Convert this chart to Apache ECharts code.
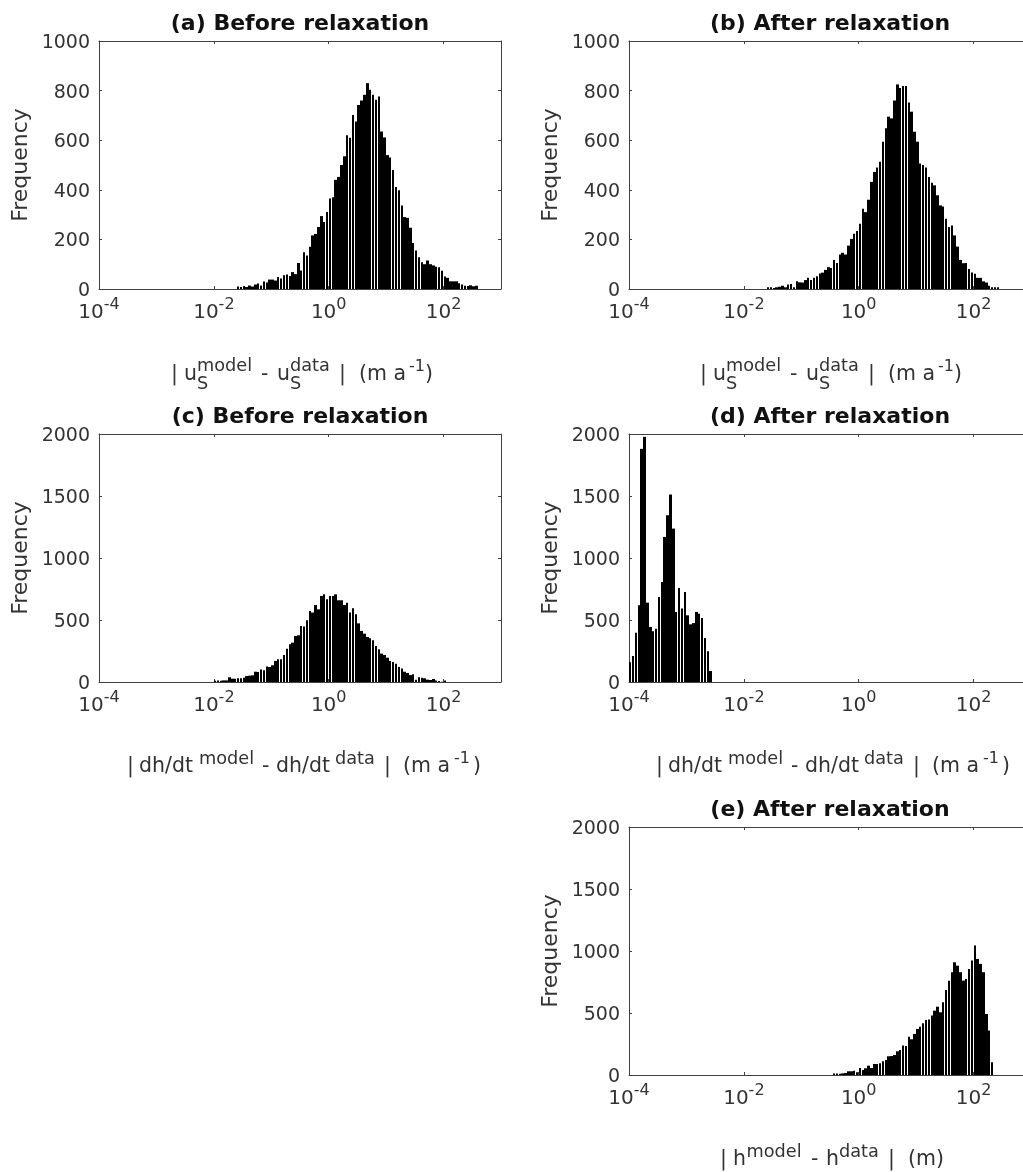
<!DOCTYPE html>
<html>
<head>
<meta charset="utf-8">
<style>
  html, body { margin: 0; padding: 0; background: #fff; overflow: hidden; }
  #chart { width: 1023px; height: 1172px; }
</style>
<script src="https://cdn.jsdelivr.net/npm/echarts@6/dist/echarts.min.js"></script>
</head>
<body>
<div id="chart"></div>
<script>
// histogram bins are 0.05 decades wide, bin 0 starts at 10^-4
const binStartExp = -4
const binWidthExp = 0.05

const titles = ['(a) Before relaxation', '(b) After relaxation', '(c) Before relaxation', '(d) After relaxation', '(e) After relaxation']
const xTickExps = [-4, -2, 0, 2]

// first non empty bin of each panel, counts follow from there
const startA = 48
const countsA = [10,8,12,8,14,10,18,22,14,30,26,38,38,34,48,42,55,58,52,68,60,105,75,148,135,170,216,222,250,294,270,310,365,370,440,452,500,535,620,610,702,675,742,760,783,830,803,783,763,776,635,611,540,530,480,411,398,337,290,287,247,185,155,128,108,100,115,100,95,90,88,74,50,45,31,31,31,23,18,13,12,15,11,13]
const startB = 48
const countsB = [7,7,4,7,9,13,7,18,20,7,31,27,26,36,45,36,45,51,63,66,77,88,85,117,105,139,146,139,175,202,223,234,263,324,310,360,432,472,490,513,594,648,695,688,760,825,810,819,819,752,715,634,594,506,500,490,452,428,418,378,337,333,283,250,256,216,171,117,104,105,81,67,61,45,45,31,26,13,7,7,7]
const startC = 40
const countsC = [11,13,11,13,13,38,27,27,30,30,35,48,51,54,83,81,100,94,124,121,135,170,183,183,218,269,304,317,371,377,452,447,498,573,560,621,586,694,707,667,694,694,707,659,659,621,640,560,594,546,473,412,390,363,352,336,290,264,229,218,196,170,161,148,121,108,83,73,56,62,19,38,35,30,19,16,24,13,8,3,13]
const startD = 0
const countsD = [160,210,398,619,1880,1977,640,444,409,430,686,807,1170,1345,1512,1237,565,759,592,726,538,465,475,565,551,516,355,247,89]
const startE = 71
const countsE = [13,13,11,13,16,30,30,35,22,56,40,54,75,56,89,89,94,110,121,151,153,161,191,202,237,234,309,288,331,371,390,417,444,447,479,519,551,506,586,686,761,829,909,882,829,761,775,855,923,1044,936,896,829,492,358,102]

const ink = '#333333'
const frame = '#404040'
const fontFamily = '"DejaVu Sans"'

function makeBins(start, counts) {
    return counts.map((c, i) => {
        const lo = binStartExp + (start + i) * binWidthExp
        return [Math.pow(10, lo), Math.pow(10, lo + binWidthExp), c]
    })
}

// edges are snapped to whole pixels, that is what makes the thin white lines in the bars
function renderBin(params, api) {
    const a = api.coord([api.value(0), api.value(2)])
    const b = api.coord([api.value(1), 0])
    const left = Math.round(a[0])
    const right = Math.round(a[0] + (b[0] - a[0]) * 0.86)
    return {
        type: 'rect',
        shape: { x: left, y: a[1], width: right - left, height: b[1] - a[1] },
        style: { fill: '#000' }
    }
}

const panels = [
    { left: 99, top: 41, yMax: 1000, yInt: 200, bins: makeBins(startA, countsA) },
    { left: 629, top: 41, yMax: 1000, yInt: 200, bins: makeBins(startB, countsB) },
    { left: 99, top: 434, yMax: 2000, yInt: 500, bins: makeBins(startC, countsC) },
    { left: 629, top: 434, yMax: 2000, yInt: 500, bins: makeBins(startD, countsD) },
    { left: 629, top: 827, yMax: 2000, yInt: 500, bins: makeBins(startE, countsE) }
]

const option = { animation: false, backgroundColor: '#fff', title: [], grid: [], xAxis: [], yAxis: [], series: [] }

panels.forEach((p, i) => {
    option.title.push({
        text: titles[i],
        left: p.left + 196,
        top: p.top - 33,
        textAlign: 'center',
        textStyle: { fontFamily, fontWeight: 'bold', fontSize: 22, color: '#111' }
    })
    // the right hand panels run past the edge of the page, as in the original
    option.grid.push({ left: p.left, top: p.top, width: 402, height: 248, show: false, outerBoundsMode: 'none' })

    const xBase = {
        type: 'log', logBase: 10, gridIndex: i, min: 1e-4, max: 1e3, interval: 2,
        axisLine: { show: true, onZero: false, lineStyle: { color: frame, width: 1 } },
        axisTick: { show: true, inside: true, length: 3, lineStyle: { color: frame } },
        minorTick: { show: false },
        splitLine: { show: false }
    }
    option.xAxis.push(Object.assign({}, xBase, {
        position: 'bottom',
        axisLabel: {
            margin: 8,
            showMaxLabel: false,
            formatter: v => {
                const e = Math.round(Math.log10(v))
                return xTickExps.includes(e) ? `{b|10}{s|${e}}` : ''
            },
            rich: {
                b: { fontFamily, fontSize: 20, color: ink, lineHeight: 26, verticalAlign: 'bottom' },
                s: { fontFamily, fontSize: 16, color: ink, lineHeight: 26, verticalAlign: 'top' }
            }
        }
    }))
    option.xAxis.push(Object.assign({}, xBase, { position: 'top', axisLabel: { show: false } }))

    const yBase = {
        type: 'value', gridIndex: i, min: 0, max: p.yMax, interval: p.yInt,
        axisLine: { show: true, onZero: false, lineStyle: { color: frame, width: 1 } },
        axisTick: { show: true, inside: true, length: 3, lineStyle: { color: frame } },
        splitLine: { show: false }
    }
    option.yAxis.push(Object.assign({}, yBase, {
        position: 'left',
        name: 'Frequency',
        nameLocation: 'middle',
        nameGap: 67,
        nameTextStyle: { fontFamily, fontSize: 22, color: ink },
        axisLabel: {
            margin: 9,
            color: ink,
            formatter: v => `{v|${v}}`,
            rich: { v: { fontFamily, fontSize: 19, color: ink, padding: [4, 0, 0, 0] } }
        }
    }))
    option.yAxis.push(Object.assign({}, yBase, { position: 'right', axisLabel: { show: false } }))

    option.series.push({
        type: 'custom',
        coordinateSystem: 'cartesian2d',
        xAxisIndex: i * 2,
        yAxisIndex: i * 2,
        silent: true,
        renderItem: renderBin,
        encode: { x: [0, 1], y: 2 },
        data: p.bins
    })
})

// axis captions: text pieces with sub and superscripts, x counted from the start of the caption
const big = 20.5
const small = 17.7
const usPieces = [
    ['|', -1, 0, big], ['u', 12, 0, big], ['model', 25, -9, small], ['S', 25, 9, small],
    ['-', 89, 0, big], ['u', 105, 0, big], ['data', 118, -9, small], ['S', 118, 9, small],
    ['|', 167, 0, big], ['(m a', 187, 0, big], ['-1', 237, -8, 16], [')', 253, 0, big]
]
const dhPieces = [
    ['|', -1, 0, big], ['dh/dt', 11, 0, big], ['model', 71, -8, small], ['-', 134, 0, big], ['dh/dt', 148, 0, big], ['data', 207, -8, small],
    ['|', 256, 0, big], ['(m a', 275, 0, big], ['-1', 326, -8, 16], [')', 345, 0, big]
]
const hPieces = [
    ['|', 0, 0, big], ['h', 13, 0, big], ['model', 26.5, -8, small], ['-', 91, 0, big], ['h', 106, 0, big], ['data', 119, -8, small],
    ['|', 168, 0, big], ['(m)', 188, 0, big]
]
const captions = [
    { x: 172, y: 375, pieces: usPieces },
    { x: 701, y: 375, pieces: usPieces },
    { x: 128, y: 767, pieces: dhPieces },
    { x: 657, y: 767, pieces: dhPieces },
    { x: 720, y: 1160, pieces: hPieces }
]
option.graphic = []
captions.forEach(c => {
    c.pieces.forEach(q => {
        option.graphic.push({
            type: 'text',
            x: c.x + q[1],
            y: c.y + q[2],
            silent: true,
            style: {
                text: q[0],
                font: `${q[3]}px "DejaVu Sans"`,
                fill: ink,
                textAlign: 'left',
                textVerticalAlign: 'middle'
            }
        })
    })
})

const myChart = echarts.init(document.getElementById('chart'), null, { renderer: 'canvas' })
myChart.setOption(option)
</script>
</body>
</html>
